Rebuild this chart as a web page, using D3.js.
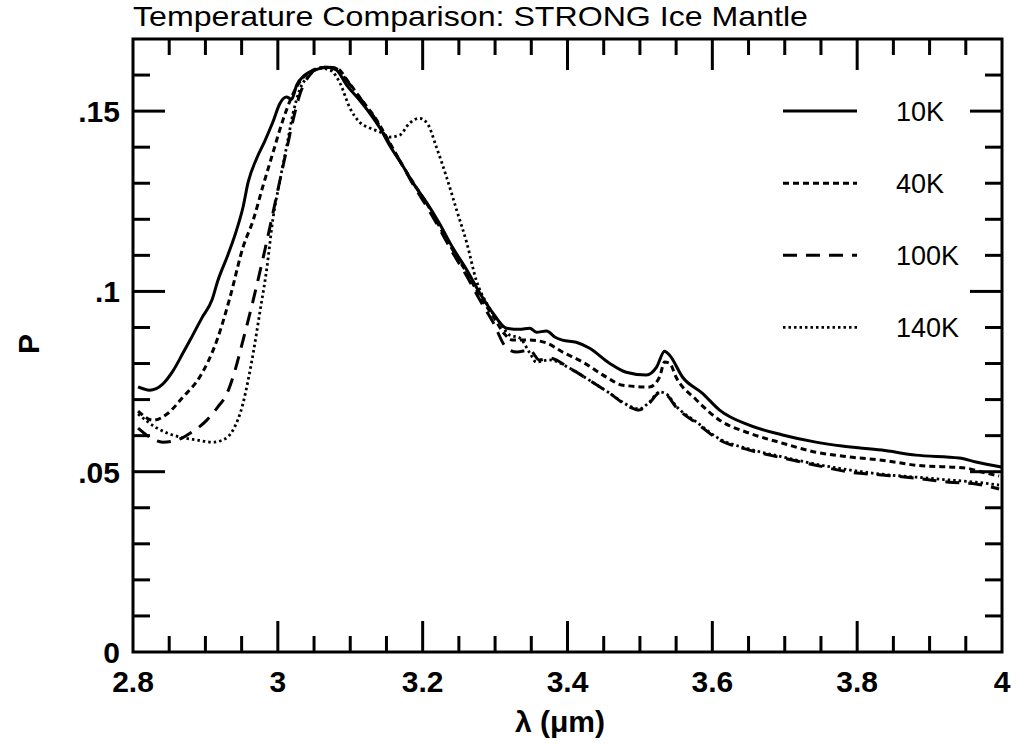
<!DOCTYPE html>
<html>
<head>
<meta charset="utf-8">
<script src="https://cdn.jsdelivr.net/npm/d3@7"></script>
<style>
    body { margin: 0; background: #fff; }
    svg text { font-family: "Liberation Sans", Arial, sans-serif; fill: #000; }
</style>
</head>
<body>
<div id="chart"></div>
<script>

var titleText = "Temperature Comparison: STRONG Ice Mantle";
var xLabelText = "\u03bb (\u03bcm)";
var yLabelText = "P";

var xTickLabels = ["2.8", "3", "3.2", "3.4", "3.6", "3.8", "4"];
var yTickLabels = ["0", ".05", ".1", ".15"];
var legendNames = ["10K", "40K", "100K", "140K"];

// 10K
var lambda10 = [2.807, 2.823, 2.841, 2.855, 2.869, 2.881, 2.895, 2.909, 2.917, 2.931, 2.943, 2.952, 2.959, 2.971, 2.982, 2.993, 3.003, 3.012, 3.019, 3.026, 3.037, 3.051, 3.069, 3.081, 3.095, 3.113, 3.127, 3.141, 3.154, 3.172, 3.186, 3.206, 3.223, 3.241, 3.261, 3.279, 3.297, 3.316, 3.334, 3.348, 3.357, 3.371, 3.383, 3.393, 3.412, 3.430, 3.458, 3.481, 3.509, 3.523, 3.534, 3.541, 3.559, 3.586, 3.610, 3.651, 3.697, 3.743, 3.779, 3.834, 3.881, 3.941, 3.964, 3.999];
var p10 = [0.0735, 0.0726, 0.0743, 0.0779, 0.0829, 0.0873, 0.0926, 0.0976, 0.1029, 0.1101, 0.1170, 0.1234, 0.1303, 0.1370, 0.1417, 0.1469, 0.1522, 0.1539, 0.1533, 0.1572, 0.1600, 0.1614, 0.1622, 0.1614, 0.1572, 0.1530, 0.1494, 0.1453, 0.1406, 0.1350, 0.1303, 0.1245, 0.1189, 0.1123, 0.1059, 0.0995, 0.0940, 0.0898, 0.0895, 0.0898, 0.0887, 0.0890, 0.0873, 0.0865, 0.0859, 0.0843, 0.0801, 0.0776, 0.0768, 0.0790, 0.0834, 0.0823, 0.0762, 0.0718, 0.0671, 0.0629, 0.0602, 0.0582, 0.0571, 0.0560, 0.0546, 0.0538, 0.0527, 0.0513];

// 40K
var lambda40 = [2.807, 2.828, 2.847, 2.869, 2.892, 2.916, 2.934, 2.952, 2.966, 2.979, 2.993, 3.007, 3.019, 3.030, 3.044, 3.065, 3.081, 3.099, 3.116, 3.134, 3.154, 3.172, 3.189, 3.207, 3.223, 3.241, 3.261, 3.279, 3.297, 3.313, 3.324, 3.348, 3.371, 3.393, 3.421, 3.454, 3.476, 3.513, 3.527, 3.534, 3.541, 3.550, 3.578, 3.610, 3.651, 3.697, 3.743, 3.789, 3.834, 3.881, 3.950, 3.972, 3.996];
var p40 = [0.0668, 0.0643, 0.0660, 0.0707, 0.0762, 0.0865, 0.0984, 0.1123, 0.1198, 0.1289, 0.1383, 0.1475, 0.1539, 0.1580, 0.1608, 0.1622, 0.1619, 0.1577, 0.1530, 0.1483, 0.1414, 0.1350, 0.1295, 0.1239, 0.1181, 0.1117, 0.1051, 0.0987, 0.0932, 0.0882, 0.0865, 0.0865, 0.0857, 0.0832, 0.0804, 0.0762, 0.0740, 0.0735, 0.0762, 0.0804, 0.0801, 0.0762, 0.0699, 0.0643, 0.0607, 0.0579, 0.0554, 0.0541, 0.0532, 0.0518, 0.0510, 0.0499, 0.0488];

// 100K
var lambda100 = [2.807, 2.823, 2.841, 2.861, 2.879, 2.902, 2.917, 2.930, 2.938, 2.952, 2.966, 2.979, 2.989, 3.003, 3.012, 3.021, 3.030, 3.044, 3.061, 3.079, 3.097, 3.116, 3.134, 3.154, 3.172, 3.189, 3.207, 3.223, 3.241, 3.261, 3.279, 3.297, 3.316, 3.330, 3.348, 3.361, 3.375, 3.403, 3.430, 3.458, 3.486, 3.499, 3.513, 3.527, 3.537, 3.550, 3.578, 3.610, 3.651, 3.697, 3.743, 3.789, 3.834, 3.881, 3.927, 3.964, 3.996];
var p100 = [0.0621, 0.0596, 0.0582, 0.0588, 0.0607, 0.0643, 0.0679, 0.0718, 0.0762, 0.0865, 0.0976, 0.1087, 0.1178, 0.1309, 0.1392, 0.1475, 0.1544, 0.1600, 0.1622, 0.1619, 0.1580, 0.1530, 0.1480, 0.1411, 0.1350, 0.1289, 0.1231, 0.1175, 0.1109, 0.1042, 0.0976, 0.0915, 0.0843, 0.0832, 0.0837, 0.0810, 0.0815, 0.0787, 0.0754, 0.0718, 0.0679, 0.0671, 0.0690, 0.0718, 0.0712, 0.0679, 0.0635, 0.0588, 0.0560, 0.0538, 0.0518, 0.0499, 0.0491, 0.0482, 0.0471, 0.0466, 0.0452];

// 140K
var lambda140 = [2.807, 2.833, 2.865, 2.888, 2.910, 2.924, 2.938, 2.952, 2.959, 2.966, 2.975, 2.985, 2.993, 3.003, 3.012, 3.021, 3.030, 3.044, 3.058, 3.072, 3.086, 3.099, 3.113, 3.127, 3.141, 3.154, 3.168, 3.182, 3.196, 3.207, 3.219, 3.233, 3.247, 3.261, 3.274, 3.288, 3.306, 3.320, 3.334, 3.348, 3.357, 3.375, 3.403, 3.430, 3.458, 3.486, 3.499, 3.513, 3.527, 3.537, 3.550, 3.578, 3.610, 3.651, 3.697, 3.743, 3.789, 3.834, 3.881, 3.927, 3.964, 3.996];
var p140 = [0.0660, 0.0621, 0.0596, 0.0588, 0.0582, 0.0588, 0.0615, 0.0690, 0.0754, 0.0829, 0.0940, 0.1067, 0.1198, 0.1309, 0.1400, 0.1494, 0.1558, 0.1600, 0.1619, 0.1614, 0.1577, 0.1511, 0.1469, 0.1453, 0.1442, 0.1428, 0.1433, 0.1467, 0.1480, 0.1464, 0.1400, 0.1317, 0.1225, 0.1134, 0.1031, 0.0968, 0.0915, 0.0879, 0.0871, 0.0829, 0.0804, 0.0810, 0.0787, 0.0754, 0.0718, 0.0682, 0.0674, 0.0693, 0.0721, 0.0715, 0.0682, 0.0638, 0.0591, 0.0563, 0.0541, 0.0521, 0.0505, 0.0493, 0.0485, 0.0477, 0.0471, 0.0463];

var chart = (function () {

    var self = {};
    var width = 1016, height = 744;
    var left = 133, right = 1002, top = 39, bottom = 652;

    self.draw = function () {

        var svg = d3.select("#chart").append("svg")
            .attr("width", width)
            .attr("height", height);

        var x = d3.scaleLinear().domain([2.8, 4]).range([left, right]);
        var y = d3.scaleLinear().domain([0, 0.17]).range([bottom, top]);

        // ticks, drawn inward on all four sides
        var xMinor = d3.range(2.85, 3.999, 0.05).filter(function (v) {
            return Math.abs(v * 5 - Math.round(v * 5)) > 0.01;
        });
        var xMajor = d3.range(3.0, 3.999, 0.2);
        var yMinor = d3.range(0.01, 0.1699, 0.01).filter(function (v) {
            return Math.abs(v * 20 - Math.round(v * 20)) > 0.01;
        });
        var yMajor = [0.05, 0.1, 0.15];

        var ticks = svg.append("g").attr("stroke", "#000").attr("stroke-width", 3);

        function xTicks(vals, len) {
            vals.forEach(function (v) {
                ticks.append("line").attr("x1", x(v)).attr("x2", x(v)).attr("y1", bottom).attr("y2", bottom - len);
                ticks.append("line").attr("x1", x(v)).attr("x2", x(v)).attr("y1", top).attr("y2", top + len);
            })
        }
        function yTicks(vals, len) {
            vals.forEach(function (v) {
                ticks.append("line").attr("y1", y(v)).attr("y2", y(v)).attr("x1", left).attr("x2", left + len);
                ticks.append("line").attr("y1", y(v)).attr("y2", y(v)).attr("x1", right).attr("x2", right - len);
            })
        }
        xTicks(xMinor, 16);
        xTicks(xMajor, 31);
        yTicks(yMinor, 17);
        yTicks(yMajor, 32);

        svg.append("rect")
            .attr("x", left).attr("y", top)
            .attr("width", right - left).attr("height", bottom - top)
            .attr("fill", "none").attr("stroke", "#000").attr("stroke-width", 3);

        // tick labels
        var xVals = xTickLabels.map(function (d) { return +d; });
        svg.append("g").selectAll("text").data(xTickLabels).enter().append("text")
            .attr("x", function (d, i) { return x(xVals[i]); })
            .attr("y", 692)
            .attr("text-anchor", "middle")
            .style("font-size", "30px").style("font-weight", "bold")
            .text(function (d) { return d; });

        svg.append("g").selectAll("text").data(yTickLabels).enter().append("text")
            .attr("x", 120)
            .attr("y", function (d) { return y(+d) + 11; })
            .attr("text-anchor", "end")
            .style("font-size", "30px").style("font-weight", "bold")
            .text(function (d) { return d; });

        // axis titles
        svg.append("text")
            .attr("x", 560).attr("y", 732)
            .attr("text-anchor", "middle")
            .style("font-size", "30px").style("font-weight", "bold")
            .text(xLabelText);

        svg.append("text")
            .attr("transform", "translate(39,344) rotate(-90)")
            .attr("text-anchor", "middle")
            .style("font-size", "30px").style("font-weight", "bold")
            .text(yLabelText);

        svg.append("text")
            .attr("x", left).attr("y", 26)
            .attr("textLength", 675).attr("lengthAdjust", "spacingAndGlyphs")
            .style("font-size", "28px")
            .text(titleText);

        // curves
        var series = [
            {name: legendNames[0], xs: lambda10, ys: p10, dash: null, w: 3},
            {name: legendNames[1], xs: lambda40, ys: p40, dash: "6,4", w: 3},
            {name: legendNames[2], xs: lambda100, ys: p100, dash: "14,9", w: 3},
            {name: legendNames[3], xs: lambda140, ys: p140, dash: "2.5,3", w: 2.8}
        ];

        var line = d3.line()
            .x(function (d) { return x(d[0]); })
            .y(function (d) { return y(d[1]); })
            .curve(d3.curveMonotoneX);

        series.forEach(function (s) {
            var pts = s.xs.map(function (v, i) { return [v, s.ys[i]]; });
            svg.append("path")
                .attr("d", line(pts))
                .attr("fill", "none")
                .attr("stroke", "#000")
                .attr("stroke-width", s.w)
                .attr("stroke-dasharray", s.dash);
        })

        // legend
        var legendY = [0.15, 0.13, 0.11, 0.09];
        series.forEach(function (s, i) {
            var ly = y(legendY[i]);
            svg.append("line")
                .attr("x1", 783).attr("x2", 857)
                .attr("y1", ly).attr("y2", ly)
                .attr("stroke", "#000")
                .attr("stroke-width", s.w)
                .attr("stroke-dasharray", s.dash);
            svg.append("text")
                .attr("x", 896).attr("y", ly + 10)
                .style("font-size", "27px")
                .text(s.name);
        })
    }

    return self;

})()

chart.draw();
</script>
</body>
</html>
